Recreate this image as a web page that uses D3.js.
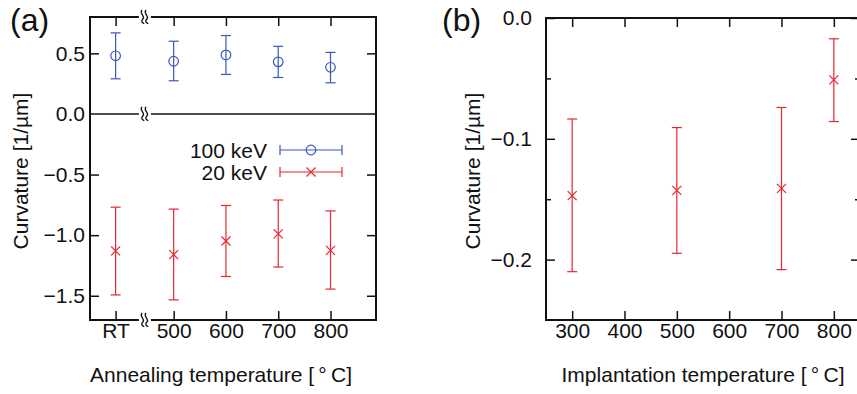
<!DOCTYPE html>
<html><head><meta charset="utf-8">
<script src="https://cdn.jsdelivr.net/npm/d3@7/dist/d3.min.js"></script>
<style>
html,body{margin:0;padding:0;background:#fff;}
text{font-family:"Liberation Sans",Arial,Helvetica,sans-serif;fill:#111;}
</style></head>
<body><svg id="chart" width="857" height="394"></svg>
<script>
// ---------- data: panel (a) ----------
const annealLabels = ["RT", "500", "600", "700", "800"];
const annealX = [389, 500, 600, 700, 800];
const kev100 = [0.480, 0.435, 0.487, 0.430, 0.385];
const kev100Lo = [0.290, 0.274, 0.326, 0.301, 0.257];
const kev100Hi = [0.669, 0.600, 0.647, 0.558, 0.508];
const kev20 = [-1.130, -1.160, -1.048, -0.990, -1.125];
const kev20Lo = [-1.493, -1.534, -1.341, -1.263, -1.445];
const kev20Hi = [-0.769, -0.785, -0.755, -0.710, -0.800];
const yTicksA = [0.5, 0.0, -0.5, -1.0, -1.5];
const breakAtA = 445;
const legendNames = ["100 keV", "20 keV"];

// ---------- data: panel (b) ----------
const implX = [300, 500, 700, 800];
const implY = [-0.1470, -0.1427, -0.1410, -0.0512];
const implLo = [-0.2100, -0.1948, -0.2083, -0.0857];
const implHi = [-0.0836, -0.0907, -0.0741, -0.0172];
const xTicksB = [300, 400, 500, 600, 700, 800];
const yMajorB = [0.0, -0.1, -0.2];
const yMinorB = [-0.05, -0.15];

const blue = "#3a58b8", red = "#e8262f";
const svg = d3.select("#chart");
svg.append("rect").attr("width", 857).attr("height", 394).attr("fill", "#fff");
const FS = 21;

function crossPath(cx, cy, s) {
  return `M${cx - s},${cy - s}L${cx + s},${cy + s}M${cx - s},${cy + s}L${cx + s},${cy - s}`;
}
function breakMark(g, x, y) {
  g.append("rect").attr("x", x - 6).attr("y", y - 3).attr("width", 12).attr("height", 6).attr("fill", "#fff");
  [-2, 2].forEach(o => {
    const cx = x + o;
    g.append("path")
      .attr("d", `M${cx - 1},${y - 7} C${cx - 4},${y - 3} ${cx + 3},${y - 1} ${cx},${y + 2} S${cx + 1},${y + 6} ${cx + 1},${y + 7}`)
      .attr("fill", "none").attr("stroke", "#111").attr("stroke-width", 1.3);
  });
}
function errorSeries(g, xs, ys, lo, hi, xS, yS, color, marker) {
  xs.forEach((xv, i) => {
    const px = xS(xv);
    g.append("line").attr("x1", px).attr("x2", px).attr("y1", yS(lo[i])).attr("y2", yS(hi[i]))
      .attr("stroke", color).attr("stroke-width", 1.2);
    [lo[i], hi[i]].forEach(v => g.append("line").attr("x1", px - 5).attr("x2", px + 5)
      .attr("y1", yS(v)).attr("y2", yS(v)).attr("stroke", color).attr("stroke-width", 1.2));
    drawMarker(g, px, yS(ys[i]), color, marker);
  });
}
function drawMarker(g, px, py, color, marker) {
  if (marker === "circle") {
    g.append("circle").attr("cx", px).attr("cy", py).attr("r", 4.8)
      .attr("fill", "none").attr("stroke", color).attr("stroke-width", 1.2);
  } else {
    g.append("path").attr("d", crossPath(px, py, 4.5))
      .attr("stroke", color).attr("stroke-width", 1.2).attr("fill", "none");
  }
}
function styleAxis(g) {
  g.select(".domain").remove();
  g.selectAll(".tick line").attr("stroke", "#111").attr("stroke-width", 1.5);
  g.selectAll(".tick text").attr("font-size", FS).attr("fill", "#111")
    .attr("font-family", '"Liberation Sans",Arial,sans-serif');
}

// ================= Panel (a) =================
const L = 90, R = 376, T = 17, B = 320;
const xA = d3.scaleLinear().domain([340, 887]).range([L, R]);
const yA = d3.scaleLinear().domain([-1.7, 0.8]).range([B, T]);
const gA = svg.append("g");

const fmt = d3.format(".1f");
const axL = gA.append("g").attr("transform", `translate(${L},0)`)
  .call(d3.axisLeft(yA).tickValues(yTicksA).tickSize(-9).tickPadding(5).tickFormat(fmt));
styleAxis(axL);
axL.selectAll(".tick").filter(d => d === 0).select("line").remove();
const axR = gA.append("g").attr("transform", `translate(${R},0)`)
  .call(d3.axisRight(yA).tickValues(yTicksA.filter(v => v !== 0)).tickSize(-9).tickFormat(""));
styleAxis(axR);
const axB = gA.append("g").attr("transform", `translate(0,${B})`)
  .call(d3.axisBottom(xA).tickValues(annealX).tickSize(-9).tickPadding(3).tickFormat((d, i) => annealLabels[i]));
styleAxis(axB);
const axT = gA.append("g").attr("transform", `translate(0,${T})`)
  .call(d3.axisTop(xA).tickValues(annealX).tickSize(-9).tickFormat(""));
styleAxis(axT);

gA.append("rect").attr("x", L).attr("y", T).attr("width", R - L).attr("height", B - T)
  .attr("fill", "none").attr("stroke", "#111").attr("stroke-width", 2);
gA.append("line").attr("x1", L).attr("x2", R).attr("y1", yA(0)).attr("y2", yA(0))
  .attr("stroke", "#111").attr("stroke-width", 1.6);
[T, yA(0), B].forEach(y => breakMark(gA, xA(breakAtA), y));

errorSeries(gA, annealX, kev100, kev100Lo, kev100Hi, xA, yA, blue, "circle");
errorSeries(gA, annealX, kev20, kev20Lo, kev20Hi, xA, yA, red, "cross");

// legend
const legY = [150, 172];
[[blue, "circle"], [red, "cross"]].forEach(([c, m], i) => {
  gA.append("text").attr("x", 267).attr("y", legY[i] + 7.5).attr("text-anchor", "end")
    .attr("font-size", FS).text(legendNames[i]);
  gA.append("line").attr("x1", 280).attr("x2", 342).attr("y1", legY[i]).attr("y2", legY[i])
    .attr("stroke", c).attr("stroke-width", 1.2);
  [280, 342].forEach(x => gA.append("line").attr("x1", x).attr("x2", x)
    .attr("y1", legY[i] - 5).attr("y2", legY[i] + 5).attr("stroke", c).attr("stroke-width", 1.2));
  drawMarker(gA, 311, legY[i], c, m);
});

gA.append("text").attr("x", 10).attr("y", 31).attr("font-size", 32).text("(a)");
gA.append("text").attr("transform", `translate(28,171) rotate(-90)`).attr("text-anchor", "middle")
  .attr("font-size", FS).text("Curvature [1/\u00b5m]");
gA.append("text").attr("x", 221).attr("y", 382).attr("text-anchor", "middle")
  .attr("font-size", FS).text("Annealing temperature [\u2009\u00b0\u2009C]");

// ================= Panel (b) =================
const L2 = 546, R2 = 860, T2 = 18, B2 = 320;
const xB = d3.scaleLinear().domain([250, 850]).range([L2, R2]);
const yB = d3.scaleLinear().domain([-0.25, 0]).range([B2, T2]);
const gB = svg.append("g");

const bL = gB.append("g").attr("transform", `translate(${L2},0)`)
  .call(d3.axisLeft(yB).tickValues(yMajorB).tickSize(-9).tickPadding(14).tickFormat(fmt));
styleAxis(bL);
const bLm = gB.append("g").attr("transform", `translate(${L2},0)`)
  .call(d3.axisLeft(yB).tickValues(yMinorB).tickSize(-5).tickFormat(""));
styleAxis(bLm);
const bR = gB.append("g").attr("transform", `translate(${R2},0)`)
  .call(d3.axisRight(yB).tickValues(yMajorB).tickSize(-9).tickFormat(""));
styleAxis(bR);
const bRm = gB.append("g").attr("transform", `translate(${R2},0)`)
  .call(d3.axisRight(yB).tickValues(yMinorB).tickSize(-5).tickFormat(""));
styleAxis(bRm);
const bB = gB.append("g").attr("transform", `translate(0,${B2})`)
  .call(d3.axisBottom(xB).tickValues(xTicksB).tickSize(-9).tickPadding(3).tickFormat(d3.format("d")));
styleAxis(bB);
const bT = gB.append("g").attr("transform", `translate(0,${T2})`)
  .call(d3.axisTop(xB).tickValues(xTicksB).tickSize(-9).tickFormat(""));
styleAxis(bT);

gB.append("rect").attr("x", L2).attr("y", T2).attr("width", R2 - L2).attr("height", B2 - T2)
  .attr("fill", "none").attr("stroke", "#111").attr("stroke-width", 2);

errorSeries(gB, implX, implY, implLo, implHi, xB, yB, red, "cross");

gB.append("text").attr("x", 442).attr("y", 31).attr("font-size", 32).text("(b)");
gB.append("text").attr("transform", `translate(480,171) rotate(-90)`).attr("text-anchor", "middle")
  .attr("font-size", FS).text("Curvature [1/\u00b5m]");
gB.append("text").attr("x", 703).attr("y", 382).attr("text-anchor", "middle")
  .attr("font-size", FS).text("Implantation temperature [\u2009\u00b0\u2009C]");
</script></body></html>
